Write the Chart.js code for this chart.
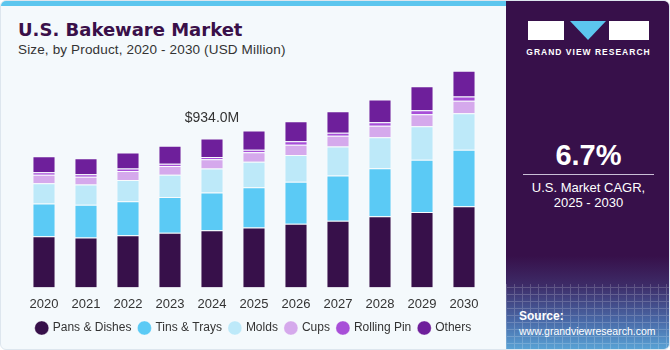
<!DOCTYPE html>
<html>
<head>
<meta charset="utf-8">
<script src="https://cdn.jsdelivr.net/npm/chart.js@4.4.0/dist/chart.umd.min.js"></script>
<style>
    body { margin: 0; width: 670px; height: 350px; overflow: hidden; background: #fff; font-family: "Liberation Sans", Arial, sans-serif; }
    #wrap { position: absolute; left: 0; top: 0; width: 668px; height: 348px; background: #f4f9fc; border: 1px solid #dde6ee; border-radius: 6px; overflow: hidden; }
    #stripe { position: absolute; left: 0; top: 0; width: 506px; height: 5px; background: #5cc6ee; }
    #title { position: absolute; left: 17px; top: 18px; font-family: "DejaVu Sans", sans-serif; font-size: 18px; font-weight: bold; color: #3a1049; }
    #subtitle { position: absolute; left: 17px; top: 41px; font-size: 13.5px; letter-spacing: 0.15px; color: #333; }
    #chart { position: absolute; left: 0; top: 0; }
    #panel { position: absolute; left: 505px; top: 0; width: 165px; height: 350px; border-top-right-radius: 6px; overflow: hidden;
        background: linear-gradient(to bottom, #37104a 0px, #37104a 255px, #3d2a66 283px, #4a6aa8 320px, #5aa6d8 350px); }
    #grid { position: absolute; left: 0; top: 283px; width: 165px; height: 67px; opacity: 0.18;
        background-image: repeating-linear-gradient(90deg, #fff 0 1px, transparent 1px 8px), repeating-linear-gradient(0deg, #fff 0 1px, transparent 1px 7px); }
    .logo { position: absolute; top: 20px; height: 19px; background: #fff; }
    #tri { position: absolute; left: 64px; top: 20px; width: 0; height: 0; border-left: 18px solid transparent; border-right: 18px solid transparent; border-top: 19px solid #5cc6ee; }
    #gvr { position: absolute; left: 0; width: 165px; top: 46px; text-align: center; color: #fff; font-size: 8.5px; font-weight: bold; letter-spacing: 1px; }
    #cagr { position: absolute; left: 0; width: 165px; top: 138px; text-align: center; color: #fff; font-size: 29px; font-weight: bold; }
    #line { position: absolute; left: 17px; width: 131px; top: 173px; height: 1px; background: #c9bfd6; }
    #cagrtxt { position: absolute; left: 0; width: 165px; top: 179px; text-align: center; color: #fff; font-size: 13px; line-height: 15px; }
    #source { position: absolute; left: 13px; top: 308px; color: #fff; font-size: 10.5px; line-height: 15px; }
</style>
</head>
<body>
<div id="wrap">
    <div id="stripe"></div>
    <div id="title">U.S. Bakeware Market</div>
    <div id="subtitle">Size, by Product, 2020 - 2030 (USD Million)</div>
    <canvas id="chart" width="500" height="350"></canvas>
    <div id="panel">
        <div id="grid"></div>
        <div class="logo" style="left:22px;width:36px;"></div>
        <div id="tri"></div>
        <div class="logo" style="left:103px;width:40px;"></div>
        <div id="gvr">GRAND VIEW RESEARCH</div>
        <div id="cagr">6.7%</div>
        <div id="line"></div>
        <div id="cagrtxt">U.S. Market CAGR,<br>2025 - 2030</div>
        <div id="source"><b style="font-size:12px">Source:</b><br>www.grandviewresearch.com</div>
    </div>
</div>
<script>
const years = ["2020", "2021", "2022", "2023", "2024", "2025", "2026", "2027", "2028", "2029", "2030"];
const pansDishes = [321, 313, 327, 344, 359, 376, 399, 419, 446, 474, 509];
const tinsTrays  = [206, 206, 214, 224, 236, 253, 263, 283, 301, 327, 354];
const molds      = [126, 126, 132, 138, 151, 159, 169, 181, 195, 210, 228];
const cups       = [53, 49, 57, 55, 57, 59, 63, 67, 71, 75, 79];
const rollingPin = [16, 16, 15, 15, 15, 16, 23, 20, 23, 24, 26];
const others     = [100, 100, 101, 112, 116, 120, 124, 134, 142, 151, 161];
const labelIndex = 4;
const labelText = "$934.0M";

function makeSet(label, data, color) {
    return {
        label: label,
        data: data,
        backgroundColor: color,
        borderColor: "rgba(255,255,255,0.35)",
        borderWidth: 1,
        barPercentage: 0.55,
        categoryPercentage: 1
    };
}

// value label above the 2024 bar
const valueLabel = {
    id: "valueLabel",
    afterDatasetsDraw(chart) {
        const meta = chart.getDatasetMeta(chart.data.datasets.length - 1);
        const bar = meta.data[labelIndex];
        const ctx = chart.ctx;
        ctx.save();
        ctx.font = "14px 'Liberation Sans', Arial, sans-serif";
        ctx.fillStyle = "#333";
        ctx.textAlign = "center";
        ctx.textBaseline = "middle";
        ctx.fillText(labelText, bar.x, bar.y - 20);
        ctx.restore();
    }
};

new Chart(document.getElementById("chart"), {
    type: "bar",
    data: {
        labels: years,
        datasets: [
            makeSet("Pans & Dishes", pansDishes, "#37104a"),
            makeSet("Tins & Trays", tinsTrays, "#5bcaf5"),
            makeSet("Molds", molds, "#bde9f9"),
            makeSet("Cups", cups, "#d5a9ec"),
            makeSet("Rolling Pin", rollingPin, "#a84fd8"),
            makeSet("Others", others, "#6e1f9b")
        ]
    },
    options: {
        responsive: false,
        animation: false,
        devicePixelRatio: 1,
        layout: { padding: { left: 22, right: 16, top: 63, bottom: 7 } },
        plugins: {
            tooltip: { enabled: false },
            legend: {
                position: "bottom",
                labels: {
                    usePointStyle: true,
                    pointStyle: "circle",
                    boxWidth: 10,
                    boxHeight: 10,
                    padding: 8,
                    color: "#333",
                    font: { size: 12, family: "'Liberation Sans', Arial, sans-serif" }
                }
            }
        },
        scales: {
            x: {
                stacked: true,
                grid: { display: false },
                border: { display: false },
                ticks: { color: "#333", font: { size: 13, family: "'Liberation Sans', Arial, sans-serif" }, padding: 1.4 }
            },
            y: {
                stacked: true,
                display: false,
                min: 0,
                max: 1400
            }
        }
    },
    plugins: [valueLabel]
});
</script>
</body>
</html>
